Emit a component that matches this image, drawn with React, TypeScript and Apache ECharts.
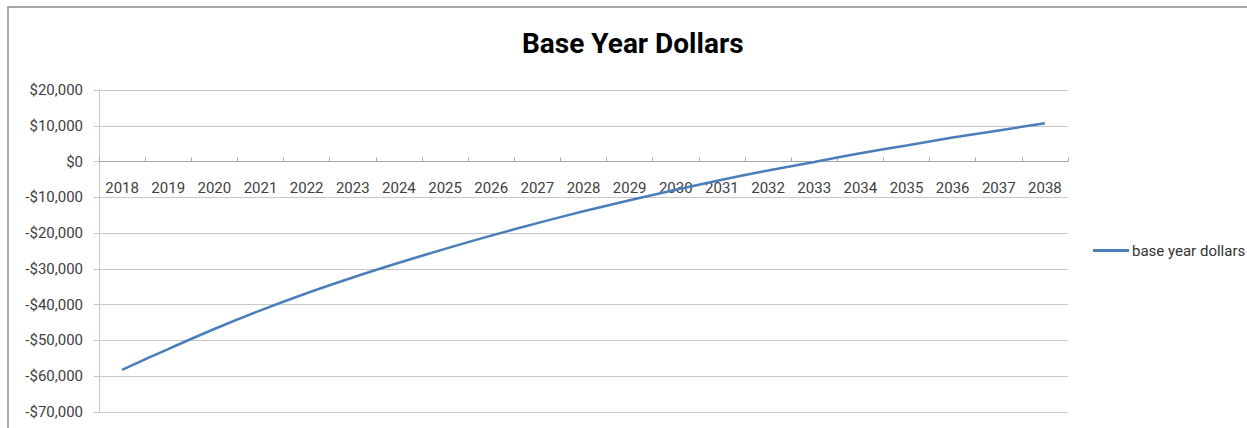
import React, { useEffect, useRef } from "react";
import * as echarts from "echarts";

const years = [
  "2018", "2019", "2020", "2021", "2022", "2023", "2024", "2025", "2026", "2027", "2028",
  "2029", "2030", "2031", "2032", "2033", "2034", "2035", "2036", "2037", "2038",
];

const baseYearDollars = [
  -58200, -52400, -46800, -41600, -36800, -32400, -28300, -24400, -20700, -17200, -13900,
  -10800, -7900, -5100, -2500, -100, 2300, 4500, 6700, 8700, 10700,
];

const seriesName = "base year dollars";
const chartTitle = "Base Year Dollars";
const yMin = -70000;
const yMax = 20000;
const yStep = 10000;

const fmtMoney = (v: number) => {
  const s = "$" + Math.abs(v).toLocaleString("en-US");
  return v < 0 ? "-" + s : s;
};

export default function App() {
  const ref = useRef<HTMLDivElement>(null);
  useEffect(() => {
    if (!ref.current) return;
    const chart = echarts.init(ref.current, undefined, { renderer: "svg" });
    const font = "Roboto, 'Noto Sans', sans-serif";
    const gridTop = 90;
    const gridBottom = 16;
    const plotH = 428 - gridTop - gridBottom;
    const zeroY = gridTop + (yMax / (yMax - yMin)) * plotH;
    const xOffset = -(gridTop + plotH - zeroY);
    chart.setOption({
      animation: false,
      backgroundColor: "#ffffff",
      title: {
        text: chartTitle,
        left: 522,
        top: 29,
        padding: 0,
        textStyle: { fontFamily: font, fontWeight: "bold", fontSize: 28, color: "#000000" },
      },
      legend: {
        data: [seriesName],
        left: 1093,
        top: 243,
        padding: 0,
        icon: "rect",
        itemWidth: 36,
        itemHeight: 3,
        itemGap: 4,
        textStyle: { fontFamily: font, fontSize: 15, color: "#333333", padding: [0, 0, 0, -2] },
      },
      graphic: [
        {
          type: "rect",
          shape: { x: 8, y: 7, width: 1400, height: 600 },
          style: { fill: "none", stroke: "#8a8a8a", lineWidth: 1.5 },
          silent: true,
        },
      ],
      grid: {
        left: 99,
        right: 179,
        top: gridTop,
        bottom: gridBottom,
        containLabel: false,
        outerBoundsMode: "none",
      },
      xAxis: {
        type: "category",
        data: years,
        boundaryGap: true,
        position: "bottom",
        offset: xOffset,
        axisLine: { onZero: false, lineStyle: { color: "#a6a6a6", width: 1 } },
        axisTick: { show: true, inside: true, length: 4, lineStyle: { color: "#a6a6a6" } },
        axisLabel: { fontFamily: font, fontSize: 15, color: "#404040", margin: 19, interval: 0 },
        splitLine: { show: false },
      },
      yAxis: {
        type: "value",
        min: yMin,
        max: yMax,
        interval: yStep,
        axisLine: { show: true, lineStyle: { color: "#c8c8c8" } },
        axisTick: { show: true, length: 5, lineStyle: { color: "#c8c8c8" } },
        axisLabel: { fontFamily: font, fontSize: 15, color: "#404040", margin: 16, formatter: fmtMoney },
        splitLine: { show: true, lineStyle: { color: "#c8c8c8", width: 1 } },
      },
      series: [
        {
          name: seriesName,
          type: "line",
          data: baseYearDollars,
          smooth: 0.3,
          symbol: "none",
          lineStyle: { color: "#4A7EBB", width: 2.5 },
          itemStyle: { color: "#4A7EBB" },
        },
      ],
    });
    return () => chart.dispose();
  }, []);
  return (
    <div
      ref={ref}
      style={{ position: "fixed", left: 0, top: 0, width: 1247, height: 428, background: "#fff" }}
    />
  );
}
